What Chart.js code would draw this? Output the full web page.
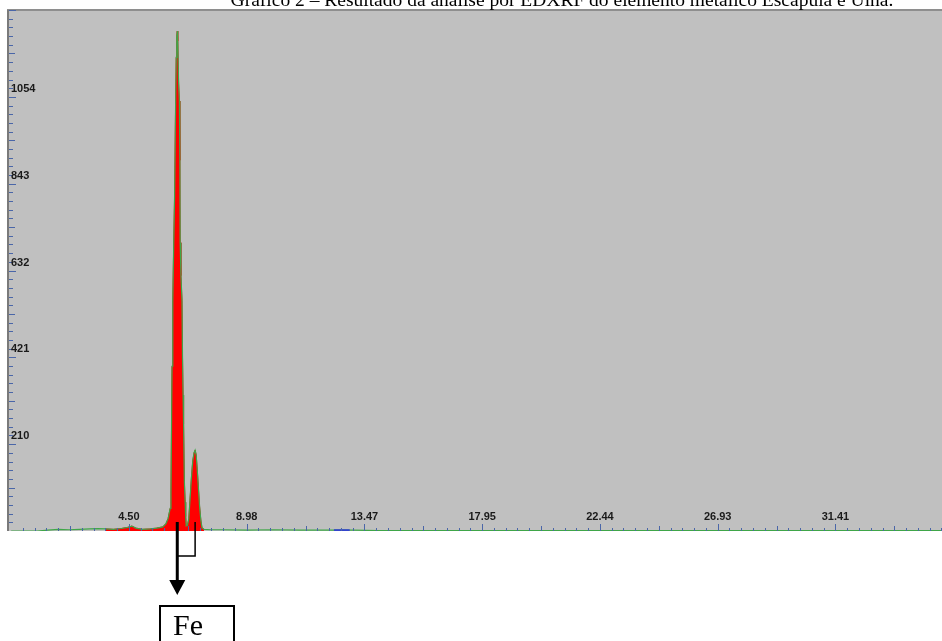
<!DOCTYPE html>
<html lang="pt">
<head>
    <meta charset="UTF-8" />
    <script src="https://cdn.jsdelivr.net/npm/chart.js"></script>
    <title>Gráfico 2 – EDXRF</title>
    <style>
        body { margin: 0; background: #fff; }
        #caixa { position: relative; width: 942px; height: 641px; }
    </style>
</head>
<body>
    <div id="caixa"><canvas id="grafico"></canvas></div>

    <script>
        const titulo = 'Gráfico 2 – Resultado da análise por EDXRF do elemento metálico Escápula e Ulna.';

        // espectro (keV x contagens)
        const energia = [0, 1.0, 1.4, 1.8, 2.2, 2.6, 3.0, 3.3, 3.6, 3.9, 4.2, 4.45, 4.6, 4.75, 5.0, 5.3, 5.55,
            5.78, 5.90, 5.98, 6.06, 6.09, 6.11, 6.13, 6.16, 6.19, 6.23, 6.26, 6.29, 6.31, 6.33, 6.35, 6.38,
            6.41, 6.43, 6.44, 6.47, 6.51, 6.53, 6.55, 6.57, 6.60, 6.63, 6.65, 6.67, 6.72, 6.77, 6.82, 6.87,
            6.92, 6.97, 7.01, 7.05, 7.10, 7.14, 7.18, 7.23, 7.27, 7.35, 7.6, 8.0, 9.0, 10.0, 11.0, 12.0,
            13.0, 14.0, 16.0, 20.0, 25.0, 30.0, 35.5];
        const contagens = [0, 0, 2, 4, 3, 4, 5, 6, 5, 4, 6, 9, 12, 7, 4, 5, 7,
            10, 18, 30, 55, 90, 240, 400, 560, 680, 820, 1000, 1150, 1200, 1214, 1190, 1088,
            1044, 900, 700, 620, 560, 420, 330, 260, 120, 70, 35, 12, 14, 30, 80, 130,
            170, 190, 196, 185, 140, 100, 60, 25, 8, 4, 3, 3, 2, 3, 2, 2,
            2, 1, 1, 1, 1, 1, 1];

        // faixa preenchida em vermelho (região do Fe)
        const faixaFe = [3.5, 7.35];
        // pequeno marcador azul na linha de base
        const marcadorAzulX = [12.3, 12.9];
        const marcadorAzulY = [2, 2];

        // eixos
        const xRotulos = ['4.50', '8.98', '13.47', '17.95', '22.44', '26.93', '31.41'];
        const xValores = [4.487, 8.974, 13.461, 17.948, 22.435, 26.922, 31.409];
        const xPasso = 0.4487;
        const yRotulos = ['210', '421', '632', '843', '1054'];
        const yValores = [210.8, 421.7, 632.5, 843.3, 1054.2];
        const yPasso = 21.08;

        const pontos = energia.map((e, i) => ({ x: e, y: contagens[i] }));
        const pontosFe = energia.map((e, i) => ({ x: e, y: (e >= faixaFe[0] && e <= faixaFe[1]) ? contagens[i] : null }));
        const pontosAzul = marcadorAzulX.map((e, i) => ({ x: e, y: marcadorAzulY[i] }));

        const desenhoExtra = {
            id: 'desenhoExtra',
            beforeDraw(chart) {
                const c = chart.ctx;
                const a = chart.chartArea;
                c.save();
                c.fillStyle = '#ffffff';
                c.fillRect(0, 0, chart.width, chart.height);
                c.fillStyle = '#c0c0c0';
                c.fillRect(7, a.top - 1, a.right - 7, a.bottom - a.top + 1);
                // borda superior
                c.fillStyle = '#8e8e8e';
                c.fillRect(7, a.top - 1, a.right - 7, 2);
                // título (cortado no topo)
                c.fillStyle = '#000';
                c.font = '19.5px "Liberation Serif", "Times New Roman", serif';
                c.textAlign = 'center';
                c.textBaseline = 'alphabetic';
                c.fillText(titulo, 562, 6);
                c.restore();
            },
            afterDatasetsDraw(chart) {
                const c = chart.ctx;
                const a = chart.chartArea;
                const sx = chart.scales.x;
                const sy = chart.scales.y;
                c.save();

                // eixo vertical
                c.fillStyle = '#7a7a7a';
                c.fillRect(7, a.top, 2, a.bottom - a.top);

                // marcas do eixo y
                c.strokeStyle = '#4a66a8';
                c.lineWidth = 1;
                for (let k = 1; k * yPasso < sy.max; k++) {
                    const py = Math.round(sy.getPixelForValue(k * yPasso)) + 0.5;
                    const len = k % 10 === 0 ? 7 : (k % 5 === 0 ? 6 : 4);
                    c.beginPath();
                    c.moveTo(9, py);
                    c.lineTo(9 + len, py);
                    c.stroke();
                }

                // marcas do eixo x
                for (let k = 1; k * xPasso < sx.max; k++) {
                    const px = Math.round(sx.getPixelForValue(k * xPasso)) + 0.5;
                    const len = k % 10 === 0 ? 7 : (k % 5 === 0 ? 5 : 3);
                    c.beginPath();
                    c.moveTo(px, a.bottom);
                    c.lineTo(px, a.bottom - len);
                    c.stroke();
                }

                // rótulos
                c.fillStyle = '#1a1a1a';
                c.font = 'bold 11px "Liberation Sans", Arial, sans-serif';
                c.textBaseline = 'middle';
                c.textAlign = 'left';
                yRotulos.forEach((t, i) => {
                    c.fillText(t, 11, sy.getPixelForValue(yValores[i]) - 8);
                });
                c.textAlign = 'center';
                xRotulos.forEach((t, i) => {
                    c.fillText(t, sx.getPixelForValue(xValores[i]), a.bottom - 14);
                });

                // anotação Fe (seta e colchete)
                const xKa = sx.getPixelForValue(6.33);
                const xKb = sx.getPixelForValue(7.01);
                c.strokeStyle = '#000';
                c.lineWidth = 1.5;
                c.beginPath();
                c.moveTo(xKb, a.bottom - 9);
                c.lineTo(xKb, 556);
                c.lineTo(xKa, 556);
                c.stroke();

                c.lineWidth = 3;
                c.beginPath();
                c.moveTo(xKa, a.bottom - 9);
                c.lineTo(xKa, 582);
                c.stroke();
                c.fillStyle = '#000';
                c.beginPath();
                c.moveTo(xKa - 8, 580);
                c.lineTo(xKa + 8, 580);
                c.lineTo(xKa, 595);
                c.closePath();
                c.fill();

                c.lineWidth = 2;
                c.strokeRect(160, 606, 74, 40);
                c.font = '30px "Liberation Serif", "Times New Roman", serif';
                c.textAlign = 'left';
                c.textBaseline = 'alphabetic';
                c.fillText('Fe', 173, 635);
                c.restore();
            }
        };

        const ctx = document.getElementById('grafico').getContext('2d');
        new Chart(ctx, {
            type: 'line',
            data: {
                datasets: [
                    {
                        label: 'Fe',
                        data: pontosFe,
                        order: 3,
                        borderColor: '#ff0000',
                        backgroundColor: '#ff0000',
                        borderWidth: 1,
                        fill: 'origin',
                        pointRadius: 0,
                        tension: 0,
                        spanGaps: false
                    },
                    {
                        label: 'Espectro',
                        data: pontos,
                        order: 2,
                        borderColor: '#3fa648',
                        borderWidth: 1.2,
                        fill: false,
                        pointRadius: 0,
                        tension: 0
                    },
                    {
                        label: 'Marcador',
                        data: pontosAzul,
                        order: 1,
                        borderColor: '#3344cc',
                        borderWidth: 2,
                        fill: false,
                        pointRadius: 0
                    }
                ]
            },
            options: {
                responsive: true,
                maintainAspectRatio: false,
                animation: false,
                layout: { padding: { left: 8, right: 0, top: 10, bottom: 110 } },
                plugins: {
                    legend: { display: false },
                    tooltip: { enabled: false }
                },
                scales: {
                    x: { type: 'linear', min: -0.12, max: 35.47, display: false },
                    y: { min: 0, max: 1265, display: false }
                }
            },
            plugins: [desenhoExtra]
        });
    </script>
</body>
</html>
